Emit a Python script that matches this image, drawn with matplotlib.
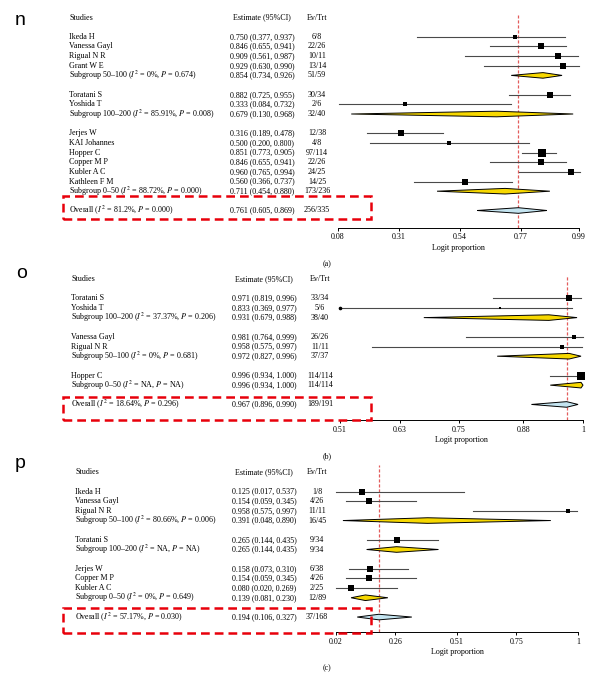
import matplotlib.pyplot as plt
from matplotlib.patches import Polygon, Rectangle
from matplotlib.transforms import blended_transform_factory

plt.rcParams['font.family'] = ['Liberation Serif', 'DejaVu Serif']
plt.rcParams['mathtext.fontset'] = 'stix'

W, H = 609, 678
PITCH = 9.65
FS = 5.8

# ---- panel n ----
labels_n = ["Ikeda H", "Vanessa Gayl", "Rigual N R", "Grant W E",
            "Subgroup 50–100 ($I^2$ = 0%, $P$ = 0.674)", None,
            "Toratani S", "Yoshida T",
            "Subgroup 100–200 ($I^2$ = 85.91%, $P$ = 0.008)", None,
            "Jerjes W", "KAI Johannes", "Hopper C", "Copper M P", "Kubler A C", "Kathleen F M",
            "Subgroup 0–50 ($I^2$ = 88.72%, $P$ = 0.000)", None,
            "Overall ($I^2$ = 81.2%, $P$ = 0.000)"]
est_n = [0.750, 0.846, 0.909, 0.929, 0.854, None, 0.882, 0.333, 0.679, None,
         0.316, 0.500, 0.851, 0.846, 0.960, 0.560, 0.711, None, 0.761]
lo_n = [0.377, 0.655, 0.561, 0.630, 0.734, None, 0.725, 0.084, 0.130, None,
        0.189, 0.200, 0.773, 0.655, 0.765, 0.366, 0.454, None, 0.605]
hi_n = [0.937, 0.941, 0.987, 0.990, 0.926, None, 0.955, 0.732, 0.968, None,
        0.478, 0.800, 0.905, 0.941, 0.994, 0.737, 0.880, None, 0.869]
ev_n = ["6/8", "22/26", "10/11", "13/14", "51/59", None, "30/34", "2/6", "32/40", None,
        "12/38", "4/8", "97/114", "22/26", "24/25", "14/25", "173/236", None, "256/335"]
wt_n = [4.7, 6.0, 5.7, 5.7, None, None, 6.7, 4.0, None, None,
        6.3, 4.3, 8.3, 6.3, 6.7, 5.3, None, None, None]
ticks_n = [0.08, 0.31, 0.54, 0.77, 0.99]

# ---- panel o ----
labels_o = ["Toratani S", "Yoshida T",
            "Subgroup 100–200 ($I^2$ = 37.37%, $P$ = 0.206)", None,
            "Vanessa Gayl", "Rigual N R",
            "Subgroup 50–100 ($I^2$ = 0%, $P$ = 0.681)", None,
            "Hopper C", "Subgroup 0–50 ($I^2$ = NA, $P$ = NA)", None,
            "Overall ($I^2$ = 18.64%, $P$ = 0.296)"]
est_o = [0.971, 0.833, 0.931, None, 0.981, 0.958, 0.972, None, 0.996, 0.996, None, 0.967]
lo_o = [0.819, 0.369, 0.679, None, 0.764, 0.575, 0.827, None, 0.934, 0.934, None, 0.896]
hi_o = [0.996, 0.977, 0.988, None, 0.999, 0.997, 0.996, None, 1.000, 1.000, None, 0.990]
ev_o = ["33/34", "5/6", "38/40", None, "26/26", "11/11", "37/37", None,
        "114/114", "114/114", None, "189/191"]
wt_o = [5.3, 3.0, None, None, 5.0, 3.7, None, None, 8.3, None, None, None]
ticks_o = [0.51, 0.63, 0.75, 0.88, 1.0]
ticklabels_o = ["0.51", "0.63", "0.75", "0.88", "1"]

# ---- panel p ----
labels_p = ["Ikeda H", "Vanessa Gayl", "Rigual N R",
            "Subgroup 50–100 ($I^2$ = 80.66%, $P$ = 0.006)", None,
            "Toratani S", "Subgroup 100–200 ($I^2$ = NA, $P$ = NA)", None,
            "Jerjes W", "Copper M P", "Kubler A C",
            "Subgroup 0–50 ($I^2$ = 0%, $P$ = 0.649)", None,
            "Overall ($I^2$ = 57.17%, $P$ = 0.030)"]
est_p = [0.125, 0.154, 0.958, 0.391, None, 0.265, 0.265, None, 0.158, 0.154, 0.080, 0.139, None, 0.194]
lo_p = [0.017, 0.059, 0.575, 0.048, None, 0.144, 0.144, None, 0.073, 0.059, 0.020, 0.081, None, 0.106]
hi_p = [0.537, 0.345, 0.997, 0.890, None, 0.435, 0.435, None, 0.310, 0.345, 0.269, 0.230, None, 0.327]
ev_p = ["1/8", "4/26", "11/11", "16/45", None, "9/34", "9/34", None,
        "6/38", "4/26", "2/25", "12/89", None, "37/168"]
wt_p = [5.3, 6.3, 5.0, None, None, 6.3, None, None, 6.7, 6.3, 6.3, None, None, None]
ticks_p = [0.02, 0.26, 0.51, 0.75, 1.0]
ticklabels_p = ["0.02", "0.26", "0.51", "0.75", "1"]

fig = plt.figure(figsize=(W / 100, H / 100), dpi=100)


def fx(px):
    return px / W


def fy(py):
    return 1 - py / H


def draw_panel(letter, caption, labels, est, lo, hi, ev, wt, ticks, ticklabels, lay):
    x0, x1, top, head, axis_y = lay['x0'], lay['x1'], lay['top'], lay['head'], lay['axis']
    ax = fig.add_axes([fx(x0), fy(axis_y), (x1 - x0) / W, (axis_y - top) / H])
    xmin, xmax = ticks[0], ticks[-1]
    ax.set_xlim(xmin, xmax)
    ax.set_ylim((axis_y - head) / PITCH, (top - head) / PITCH)
    tr = blended_transform_factory(fig.transFigure, ax.transData)

    fig.text(fx(lay['letter'][0]), fy(lay['letter'][1]), letter, fontsize=14,
             family='Liberation Sans', va='baseline', ha='left')

    ax.text(fx(lay['cs']), 0, "Studies", transform=tr, fontsize=FS, va='center', ha='left')
    ax.text(fx(lay['ce']), 0, "Estimate (95%CI)", transform=tr, fontsize=FS, va='center', ha='center')
    ax.text(fx(lay['cv']), 0, "Ev/Trt", transform=tr, fontsize=FS, va='center', ha='center')

    for i, lab in enumerate(labels):
        if lab is None:
            continue
        r = i + 2
        ax.text(fx(lay['cs']), r, lab, transform=tr, fontsize=FS, va='center', ha='left')
        ax.text(fx(lay['ce']), r, "%.3f (%.3f, %.3f)" % (est[i], lo[i], hi[i]),
                transform=tr, fontsize=FS, va='center', ha='center')
        ax.text(fx(lay['cv']), r, ev[i], transform=tr, fontsize=FS, va='center', ha='center')
        if lab.startswith("Subgroup") or lab.startswith("Overall"):
            col = '#f7d800' if lab.startswith("Subgroup") else '#c4e4f0'
            h = 0.29
            ax.add_patch(Polygon([(lo[i], r), (est[i], r - h), (hi[i], r), (est[i], r + h)],
                                 closed=True, facecolor=col, edgecolor='black', lw=0.7,
                                 clip_on=False, zorder=3))
        else:
            left = max(lo[i], xmin)
            ax.plot([left, hi[i]], [r, r], color='#4a4a4a', lw=0.8, clip_on=False, zorder=2)
            # arrow-dot only where the interval runs well past the axis
            if lo[i] < xmin - 0.02:
                ax.plot(xmin, r, 'o', color='black', ms=1.6, clip_on=False, zorder=3)
            ax.plot(est[i], r, 's', color='black', ms=wt[i] / 1.39, mew=0,
                    clip_on=False, zorder=4)

    ax.axvline(est[-1], color='#e35b5b', lw=0.9, ls=(0, (2.5, 1.5)), zorder=1)

    for s in ['top', 'left', 'right']:
        ax.spines[s].set_visible(False)
    ax.spines['bottom'].set_linewidth(0.7)
    ax.set_yticks([])
    ax.set_xticks(ticks)
    ax.set_xticklabels(ticklabels)
    ax.tick_params(axis='x', direction='out', length=2.5, width=0.7, pad=1.5, labelsize=FS)
    ax.patch.set_visible(False)

    fig.text(fx((x0 + x1) / 2), fy(axis_y + 20), "Logit proportion", fontsize=FS,
             ha='center', va='center')
    fig.text(fx(327), fy(axis_y + 36), caption, fontsize=FS, ha='center', va='center')

    bx0, by0, bx1, by1 = lay['box']
    fig.add_artist(Rectangle((fx(bx0), fy(by1)), (bx1 - bx0) / W, (by1 - by0) / H,
                             transform=fig.transFigure, fill=False, edgecolor='#e8000b',
                             lw=1.8, ls=(0, (3.5, 2.0)), clip_on=False))


lay_n = dict(x0=338, x1=579, top=15, head=17.5, axis=227.7, cs=69, ce=262, cv=317,
             letter=(15, 25), box=(63, 196, 371, 219))
lay_o = dict(x0=340, x1=583, top=275, head=279, axis=420, cs=71, ce=264, cv=320,
             letter=(16, 278.5), box=(63, 397, 371, 420))
lay_p = dict(x0=336, x1=578, top=465, head=472.3, axis=632.4, cs=75, ce=264, cv=317,
             letter=(15, 468.5), box=(63, 608, 371, 633))

draw_panel("n", "(a)", labels_n, est_n, lo_n, hi_n, ev_n, wt_n, ticks_n,
           ["%.2f" % t for t in ticks_n], lay_n)
draw_panel("o", "(b)", labels_o, est_o, lo_o, hi_o, ev_o, wt_o, ticks_o, ticklabels_o, lay_o)
draw_panel("p", "(c)", labels_p, est_p, lo_p, hi_p, ev_p, wt_p, ticks_p, ticklabels_p, lay_p)

fig.savefig("out.png", dpi=100)
